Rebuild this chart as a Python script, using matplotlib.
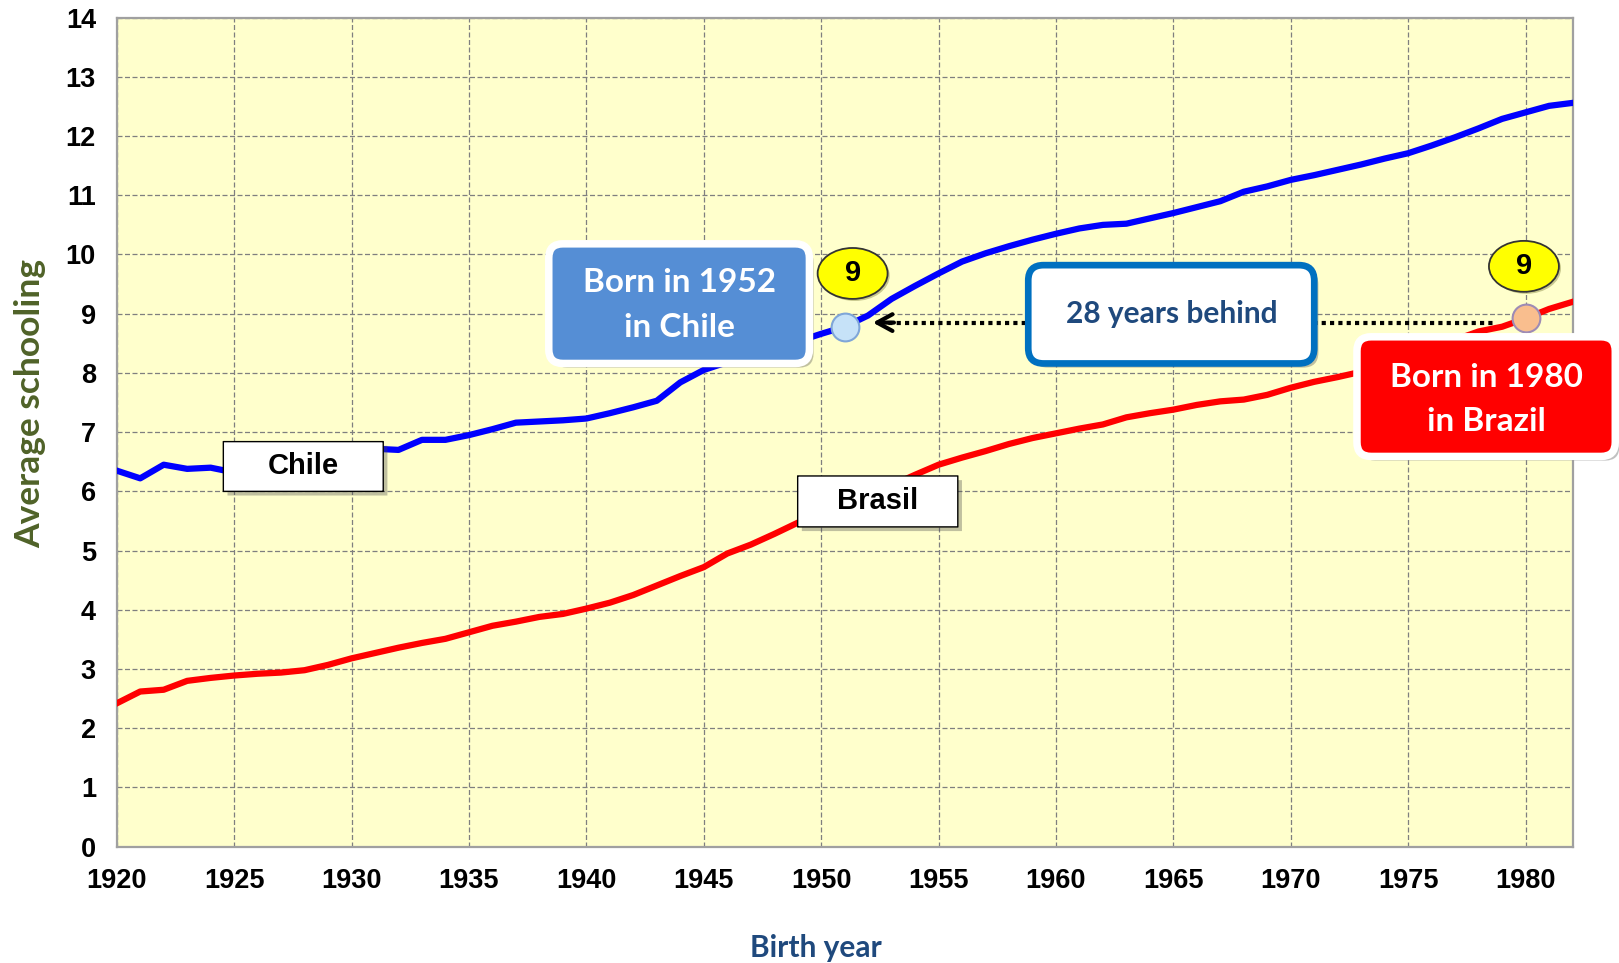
#!/usr/bin/env python3
"""Average schooling by birth year: Chile vs Brasil, with the 28-year gap callouts."""

from __future__ import annotations

import matplotlib

matplotlib.use("Agg")
import matplotlib.pyplot as plt
import matplotlib.patheffects as pe
from matplotlib.patches import Ellipse, FancyBboxPatch
import numpy as np

YEARS = list(range(1920, 1983))

CHILE = [
    6.35, 6.22, 6.45, 6.38, 6.40, 6.32, 6.38, 6.45, 6.52, 6.60,
    6.66, 6.72, 6.70, 6.87, 6.87, 6.95, 7.05, 7.16, 7.18, 7.20,
    7.23, 7.32, 7.42, 7.53, 7.84, 8.05, 8.18, 8.30, 8.42, 8.53,
    8.66, 8.78, 8.97, 9.25, 9.47, 9.68, 9.88, 10.02, 10.14, 10.25,
    10.35, 10.44, 10.50, 10.52, 10.61, 10.70, 10.80, 10.90, 11.06, 11.15,
    11.26, 11.34, 11.43, 11.52, 11.62, 11.71, 11.84, 11.98, 12.13, 12.29,
    12.40, 12.51, 12.56,
]

BRASIL = [
    2.42, 2.62, 2.65, 2.80, 2.85, 2.89, 2.92, 2.94, 2.98, 3.07,
    3.18, 3.27, 3.36, 3.44, 3.51, 3.62, 3.73, 3.80, 3.88, 3.93,
    4.02, 4.12, 4.25, 4.41, 4.57, 4.72, 4.95, 5.10, 5.28, 5.47,
    5.65, 5.82, 5.97, 6.10, 6.28, 6.45, 6.57, 6.68, 6.80, 6.90,
    6.98, 7.06, 7.13, 7.25, 7.32, 7.38, 7.46, 7.52, 7.55, 7.63,
    7.75, 7.85, 7.93, 8.02, 8.12, 8.25, 8.40, 8.56, 8.70, 8.78,
    8.92, 9.08, 9.20,
]

CHILE_YEAR = 1951
BRASIL_YEAR = 1980
GAP_LEVEL = 9

X_TICKS = list(range(1920, 1981, 5))
Y_TICKS = list(range(0, 15))
XLIM = (1920, 1982)
YLIM = (0, 14)

FIG_W_PX = 1619
FIG_H_PX = 963
DPI = 100
AX_RECT = [0.0721, 0.1208, 0.8992, 0.8609]

BG = "#FFFFCC"
BLUE = "#0000FF"
RED = "#FF0000"
CALLOUT_BLUE = "#558ED5"
CALLOUT_RED = "#FF0000"
FRAME_BLUE = "#0070C0"
NAVY = "#1F497D"
OLIVE = "#4F6228"

TICK_FONT = "Liberation Sans"
CALLOUT_FONT = "Lato"

SHADOW = [pe.SimplePatchShadow(offset=(3, -3), shadow_rgbFace="0.3", alpha=0.35), pe.Normal()]


def add_box(ax, x0, x1, y0, y1, *, face, edge, lw, radius, aspect, zorder=6, shadow=True):
    box = FancyBboxPatch(
        (x0, y0),
        x1 - x0,
        y1 - y0,
        boxstyle=f"round,pad=0,rounding_size={radius}",
        mutation_aspect=aspect,
        facecolor=face,
        edgecolor=edge,
        linewidth=lw,
        transform=ax.transData,
        clip_on=False,
        zorder=zorder,
    )
    if shadow:
        box.set_path_effects(SHADOW)
    ax.add_patch(box)
    return box


def add_label(ax, x0, x1, y0, y1, text, aspect):
    add_box(ax, x0, x1, y0, y1, face="white", edge="black", lw=1.0, radius=0.0001,
            aspect=aspect, zorder=5)
    ax.text((x0 + x1) / 2, (y0 + y1) / 2, text, ha="center", va="center",
            fontsize=21, fontweight="bold", family=TICK_FONT, color="black", zorder=7)


def add_badge(ax, x, y, text):
    badge = Ellipse((x, y), 2.98, 0.86, facecolor="#FFFF00", edgecolor="#333333",
                    linewidth=1.3, clip_on=False, zorder=6)
    badge.set_path_effects([pe.SimplePatchShadow(offset=(1.5, -1.5), alpha=0.3), pe.Normal()])
    ax.add_patch(badge)
    ax.text(x, y, text, ha="center", va="center", fontsize=21, fontweight="bold",
            family=TICK_FONT, color="black", zorder=7)


def main() -> int:
    fig = plt.figure(figsize=(FIG_W_PX / DPI, FIG_H_PX / DPI), dpi=DPI)
    ax = fig.add_axes(AX_RECT)

    years = np.array(YEARS)
    chile = np.array(CHILE)
    brasil = np.array(BRASIL)

    ax.set_facecolor(BG)
    ax.set_xlim(*XLIM)
    ax.set_ylim(*YLIM)
    ax.set_xticks(X_TICKS)
    ax.set_yticks(Y_TICKS)
    ax.tick_params(length=0, pad=15)
    for lab in ax.get_xticklabels() + ax.get_yticklabels():
        lab.set_fontfamily(TICK_FONT)
        lab.set_fontweight("bold")
        lab.set_fontsize(19.5)
    ax.grid(True, color="#7F7F7F", linestyle=(0, (4, 2)), linewidth=0.9)
    ax.set_axisbelow(True)
    for spine in ax.spines.values():
        spine.set_color("#A0A0A0")
        spine.set_linewidth(1.6)

    ax.plot(years, chile, color=BLUE, linewidth=4.5, solid_joinstyle="round", zorder=3)
    ax.plot(years, brasil, color=RED, linewidth=4.5, solid_joinstyle="round", zorder=3)

    # pixel aspect so rounded corners stay round in data units
    ax_w_px = FIG_W_PX * AX_RECT[2]
    ax_h_px = FIG_H_PX * AX_RECT[3]
    px_x = ax_w_px / (XLIM[1] - XLIM[0])
    px_y = ax_h_px / (YLIM[1] - YLIM[0])
    aspect = px_x / px_y

    # series labels
    add_label(ax, 1924.54, 1931.35, 6.00, 6.84, "Chile", aspect)
    add_label(ax, 1949.0, 1955.82, 5.40, 6.26, "Brasil", aspect)

    # markers at the 9-year level
    c_idx = YEARS.index(CHILE_YEAR)
    b_idx = YEARS.index(BRASIL_YEAR)
    c_val = CHILE[c_idx]
    b_val = BRASIL[b_idx]

    # dotted gap arrow
    arrow_y = (c_val + b_val) / 2
    tip = CHILE_YEAR + 1.2
    tail = BRASIL_YEAR - 1.25
    ax.plot([tip + 0.3, tail], [arrow_y, arrow_y], color="black", linewidth=3,
            linestyle=(0, (1, 1)), dash_capstyle="butt", zorder=4)
    ax.annotate(
        "",
        xy=(tip, arrow_y),
        xytext=(tip + 0.9, arrow_y),
        arrowprops=dict(arrowstyle="->,head_length=0.55,head_width=0.3", color="black",
                        lw=3, mutation_scale=20, shrinkA=0, shrinkB=0),
        zorder=4,
    )

    ax.plot([CHILE_YEAR], [c_val], marker="o", markersize=20, markerfacecolor="#C6E2F8",
            markeredgecolor="#7FA6D8", markeredgewidth=1.5, zorder=6, clip_on=False)
    ax.plot([BRASIL_YEAR], [b_val], marker="o", markersize=20, markerfacecolor="#F9BE8E",
            markeredgecolor="#9E8BB5", markeredgewidth=1.5, zorder=6, clip_on=False)

    add_badge(ax, CHILE_YEAR + 0.34, 9.68, str(GAP_LEVEL))
    add_badge(ax, BRASIL_YEAR - 0.07, 9.80, str(GAP_LEVEL))

    # callouts
    add_box(ax, 1938.4, 1949.5, 8.16, 10.18, face=CALLOUT_BLUE, edge="white", lw=5.4,
            radius=0.6, aspect=aspect)
    ax.text(1943.95, 9.15, f"Born in {CHILE_YEAR + 1}\nin Chile", ha="center", va="center",
            fontsize=24, fontweight="bold", family=CALLOUT_FONT, color="white",
            linespacing=1.65, zorder=7)

    add_box(ax, 1958.82, 1971.0, 8.16, 9.82, face="white", edge=FRAME_BLUE, lw=4.8,
            radius=0.65, aspect=aspect)
    ax.text(1964.92, 8.99, f"{BRASIL_YEAR - CHILE_YEAR - 1} years behind", ha="center",
            va="center", fontsize=21.5, fontweight="bold", family=CALLOUT_FONT, color=NAVY,
            zorder=7)

    add_box(ax, 1972.82, 1983.82, 6.59, 8.61, face=CALLOUT_RED, edge="white", lw=5.4,
            radius=0.6, aspect=aspect)
    ax.text(1978.33, 7.55, f"Born in {BRASIL_YEAR}\nin Brazil", ha="center", va="center",
            fontsize=24, fontweight="bold", family=CALLOUT_FONT, color="white",
            linespacing=1.65, zorder=7)

    fig.text(0.0185, 0.5815, "Average schooling", rotation=90, ha="center", va="center",
             fontsize=25.5, fontweight="bold", family=CALLOUT_FONT, color=OLIVE)
    fig.text(0.5039, 0.0156, "Birth year", ha="center", va="center", fontsize=21.5,
             fontweight="bold", family=CALLOUT_FONT, color=NAVY)

    fig.savefig("out.png", dpi=DPI)
    plt.close(fig)
    return 0


if __name__ == "__main__":
    raise SystemExit(main())
